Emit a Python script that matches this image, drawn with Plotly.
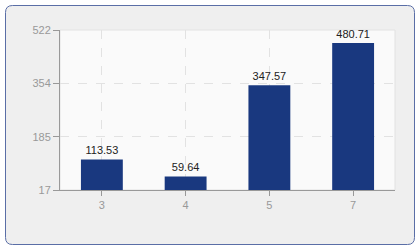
import plotly.graph_objects as go

categories = ["3", "4", "5", "7"]
values = [113.53, 59.64, 347.57, 480.71]
tick_vals = [17, 185, 354, 522]
tick_text = ["17", "185", "354", "522"]

L, R, T, B = 60, 25, 30, 60
W, H = 420, 250
pw, ph = W - L - R, H - T - B

def px2x(px):
    return (px - L) / pw

def py2y(py):
    return (H - B - py) / ph

x0, x1 = px2x(5.5), px2x(414.5)
y0, y1 = py2y(244.5), py2y(5.5)
rx, ry = 7 / pw, 7 / ph
path = (f"M {x0+rx},{y1} L {x1-rx},{y1} Q {x1},{y1} {x1},{y1-ry} "
        f"L {x1},{y0+ry} Q {x1},{y0} {x1-rx},{y0} L {x0+rx},{y0} "
        f"Q {x0},{y0} {x0},{y0+ry} L {x0},{y1-ry} Q {x0},{y1} {x0+rx},{y1} Z")

fig = go.Figure()
fig.add_trace(go.Bar(
    x=categories, y=values, width=0.5,
    marker=dict(color="#19387f", line=dict(width=0)),
    text=[f"{v:.2f}" for v in values], textposition="outside",
    textfont=dict(family="Liberation Sans", size=11, color="#222222"),
    cliponaxis=False,
))

fig.update_layout(
    width=W, height=H,
    margin=dict(l=L, r=R, t=T, b=B),
    paper_bgcolor="white",
    plot_bgcolor="#fafafa",
    showlegend=False,
    font=dict(family="Liberation Sans", size=11, color="#999999"),
    shapes=[dict(type="path", path=path, xref="paper", yref="paper",
                 fillcolor="#efefef", line=dict(color="#5a6ea6", width=1),
                 layer="below"),
            dict(type="rect", xref="paper", yref="paper", x0=0, x1=1, y0=0, y1=1,
                 fillcolor="#fafafa", line=dict(color="#e2e2e2", width=1),
                 layer="below")],
    xaxis=dict(type="category", showgrid=True, gridcolor="#e2e2e2", griddash="dash",
               gridwidth=1, showline=True, linecolor="#999999", linewidth=1,
               ticks="outside", ticklen=5, tickcolor="#999999",
               tickfont=dict(color="#999999", size=11)),
    yaxis=dict(range=[17, 522], tickvals=tick_vals, ticktext=tick_text,
               showgrid=True, gridcolor="#e2e2e2", griddash="dash", gridwidth=1,
               showline=True, linecolor="#999999", linewidth=1,
               ticks="outside", ticklen=6, tickcolor="#999999",
               tickfont=dict(color="#999999", size=11), zeroline=False),
)

fig.write_html("out.html")
